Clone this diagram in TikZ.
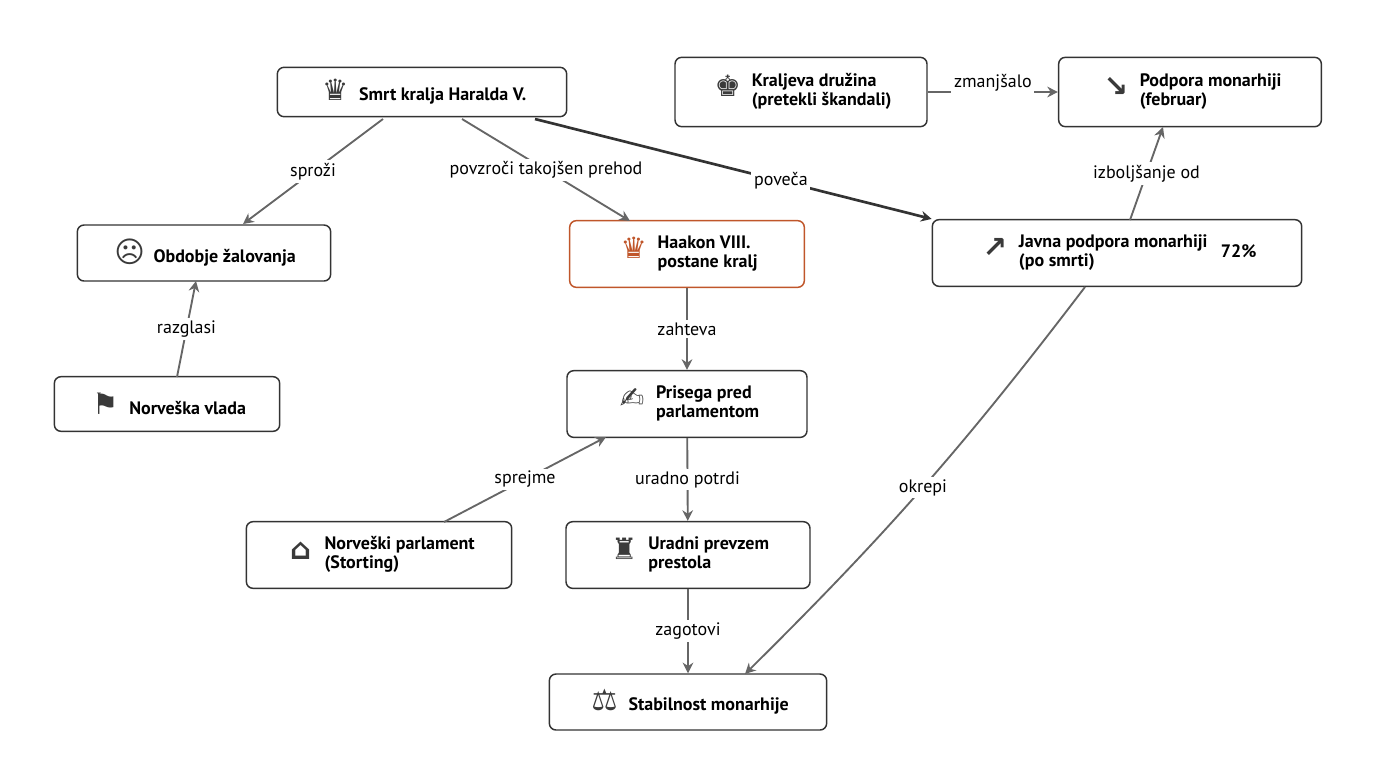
\documentclass[tikz,border=0pt]{standalone}
\usepackage{fontspec}
\setmainfont{PT Sans}
\newfontfamily\symfont{DejaVu Sans}
\usetikzlibrary{arrows.meta}
\definecolor{edgegray}{HTML}{666666}
\definecolor{darkline}{HTML}{333333}
\definecolor{haakon}{HTML}{C0562A}
\definecolor{icongray}{HTML}{3A3A3A}
\tikzset{
  box/.style={draw=darkline,rounded corners=5pt,fill=white,line width=1.1pt,
    minimum height=37pt,inner sep=4pt,font=\bfseries\fontsize{13.5}{14.5}\selectfont},
  conn/.style={draw=edgegray,line width=1.4pt,-{Stealth[length=8pt,width=8pt]}},
  lbl/.style={fill=white,inner sep=2pt,font=\fontsize{13.5}{14}\selectfont,text=black}
}
\newcommand{\ico}[2][icongray]{\makebox[26pt]{\textcolor{#1}{\symfont\fontsize{22}{22}\selectfont #2}}\hspace{5pt}}
\newcommand{\two}[2]{\begin{tabular}{@{}l@{}}#1\\#2\end{tabular}}
\begin{document}
\begin{tikzpicture}[x=0.75pt,y=-0.75pt]
\useasboundingbox (0,0) rectangle (1376,768);

\node[box,minimum width=217pt] (smrt) at (422,92) {\ico{♛}Smrt kralja Haralda V.};
\node[box,minimum width=190pt,minimum height=42pt] (zal) at (204,253) {\ico{☹}Obdobje žalovanja};
\node[box,minimum width=169pt,minimum height=41pt] (vlada) at (167,404) {\ico{⚑}Norveška vlada};
\node[box,draw=haakon,minimum width=176pt,minimum height=50pt] (haakon) at (687,254) {\ico[haakon]{♛}\two{Haakon VIII.}{postane kralj}};
\node[box,minimum width=180pt,minimum height=50pt] (prisega) at (687,404) {\ico{✍}\two{Prisega pred}{parlamentom}};
\node[box,minimum width=199pt,minimum height=50pt] (parl) at (379,555) {\ico{⌂}\two{Norveški parlament}{(Storting)}};
\node[box,minimum width=183pt,minimum height=50pt] (prevzem) at (688,555) {\ico{♜}\two{Uradni prevzem}{prestola}};
\node[box,minimum width=208pt,minimum height=42pt] (stab) at (688,702) {\ico{⚖}Stabilnost monarhije};
\node[box,minimum width=277pt,minimum height=50pt] (javna) at (1117,253) {\ico{↗}\two{Javna podpora monarhiji}{(po smrti)}\hspace{10pt}72\%};
\node[box,minimum width=189pt,minimum height=52pt] (druzina) at (801,92) {\ico{♚}\two{Kraljeva družina}{(pretekli škandali)}};
\node[box,minimum width=197pt,minimum height=52pt] (podpora) at (1190,92) {\ico{↘}\two{Podpora monarhiji}{(februar)}};

\coordinate (s1) at (383,119);
\coordinate (s2) at (462,119);
\coordinate (s3) at (535,119);
\coordinate (z1) at (243,224);
\coordinate (h1) at (630,221);
\coordinate (v1) at (177,377);
\coordinate (z2) at (196,281);
\coordinate (p1) at (444,522);
\coordinate (p2) at (606,437);
\coordinate (j1) at (1085,287);
\coordinate (st1) at (745,674);
\coordinate (j2) at (1130,220);
\coordinate (po1) at (1163,127);
\draw[conn] (s1) -- node[lbl]{sproži} (z1);
\draw[conn] (s2) -- node[lbl]{povzroči takojšen prehod} (h1);
\draw[conn,draw=darkline,line width=2pt] (s3) -- node[lbl,pos=0.62]{poveča} (javna.north west);
\draw[conn] (v1) -- node[lbl]{razglasi} (z2);
\draw[conn] (haakon) -- node[lbl]{zahteva} (prisega);
\draw[conn] (p1) -- node[lbl]{sprejme} (p2);
\draw[conn] (prisega) -- node[lbl]{uradno potrdi} (prevzem);
\draw[conn] (prevzem) -- node[lbl]{zagotovi} (stab);
\draw[conn] (j1) to[bend left=4] node[lbl]{okrepi} (st1);
\draw[conn] (j2) -- node[lbl]{izboljšanje od} (po1);
\draw[conn] (druzina) -- node[lbl,above=-2pt]{zmanjšalo} (podpora);
\end{tikzpicture}
\end{document}
